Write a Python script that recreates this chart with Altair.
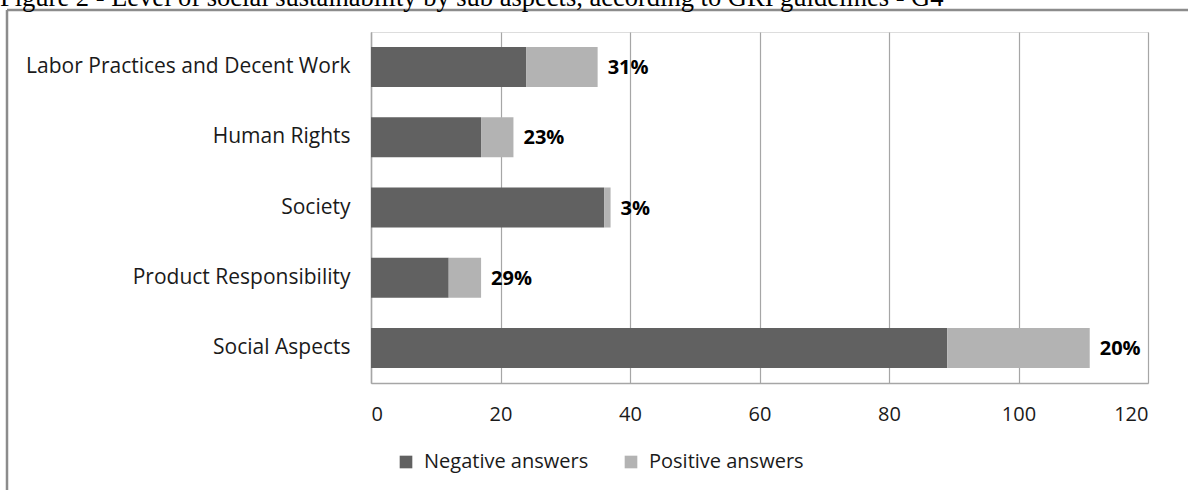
import altair as alt
import pandas as pd

title_text = "Figure 2 - Level of social sustainability by sub aspects, according to GRI guidelines - G4"
categories = ["Labor Practices and Decent Work", "Human Rights", "Society",
              "Product Responsibility\u00a0\u00a0", "Social Aspects"]
negative = [24, 17, 36, 12, 89]
positive = [11, 5, 1, 5, 22]
series = ["Negative answers", "Positive answers"]
x_ticks = [0, 20, 40, 60, 80, 100, 120]

rows = []
for c, n, p in zip(categories, negative, positive):
    rows.append({"category": c, "series": series[0], "value": n, "ord": 0})
    rows.append({"category": c, "series": series[1], "value": p, "ord": 1})
df = pd.DataFrame(rows)

lab = pd.DataFrame({
    "category": categories,
    "total": [n + p for n, p in zip(negative, positive)],
    "pct": [f"{round(p / (n + p) * 100)}%" for n, p in zip(negative, positive)],
})

FONT = "Open Sans"

y_enc = alt.Y("category:N", sort=categories, title=None,
              scale=alt.Scale(paddingInner=0.43, paddingOuter=0.215),
              axis=alt.Axis(labelFont=FONT, labelFontSize=21, labelColor="#1a1a1a",
                            labelPadding=21, ticks=False, domain=True,
                            domainColor="#a6a6a6", domainWidth=1.5, grid=False,
                            labelLimit=400))

bars = alt.Chart(df).mark_bar().encode(
    x=alt.X("value:Q", stack="zero", title=None,
            scale=alt.Scale(domain=[0, 120], nice=False),
            axis=alt.Axis(values=x_ticks, labelFont=FONT, labelFontSize=20,
                          labelColor="#1a1a1a", labelPadding=21, ticks=False,
                          domain=True, domainColor="#a6a6a6", domainWidth=1.5,
                          grid=True, gridColor="#a6a6a6", gridWidth=1.2)),
    y=y_enc,
    color=alt.Color("series:N",
                    scale=alt.Scale(domain=series, range=["#616161", "#b3b3b3"]),
                    legend=alt.Legend(title=None, orient="none", direction="horizontal",
                                      legendX=25, legendY=420, symbolType="square",
                                      symbolSize=160, symbolStrokeWidth=0,
                                      labelFont=FONT, labelFontSize=20,
                                      labelColor="#1a1a1a", labelOffset=8,
                                      labelLimit=400,
                                      columnPadding=32, padding=0)),
    order=alt.Order("ord:Q"),
)

labels = alt.Chart(lab).mark_text(align="left", baseline="middle", dx=10, dy=1,
                                  font=FONT, fontSize=20, fontWeight="bold",
                                  color="#000000").encode(
    x=alt.X("total:Q"),
    y=alt.Y("category:N", sort=categories),
    text="pct:N",
)

border_top = alt.Chart(pd.DataFrame({"a": [0]})).mark_rule(color="#8c8c8c", strokeWidth=2.5).encode(
    x=alt.value(-364), x2=alt.value(900), y=alt.value(-22))
border_left = alt.Chart(pd.DataFrame({"a": [0]})).mark_rule(color="#8c8c8c", strokeWidth=2.5).encode(
    x=alt.value(-364), y=alt.value(-22), y2=alt.value(500))

title = alt.Chart(pd.DataFrame({"t": [title_text]})).mark_text(
    align="left", baseline="alphabetic", font="Liberation Serif", fontSize=26.5,
    color="#000000").encode(text="t:N", x=alt.value(-371), y=alt.value(-26))

chart = alt.layer(bars, labels, border_top, border_left, title).properties(
    width=777, height=351,
    autosize=alt.AutoSizeParams(type="none"),
    padding={"left": 371, "top": 32, "right": 40, "bottom": 107},
).configure_view(stroke=None).configure(background="#ffffff")

chart.save("out.html", embed_options={"renderer": "svg", "actions": False})
